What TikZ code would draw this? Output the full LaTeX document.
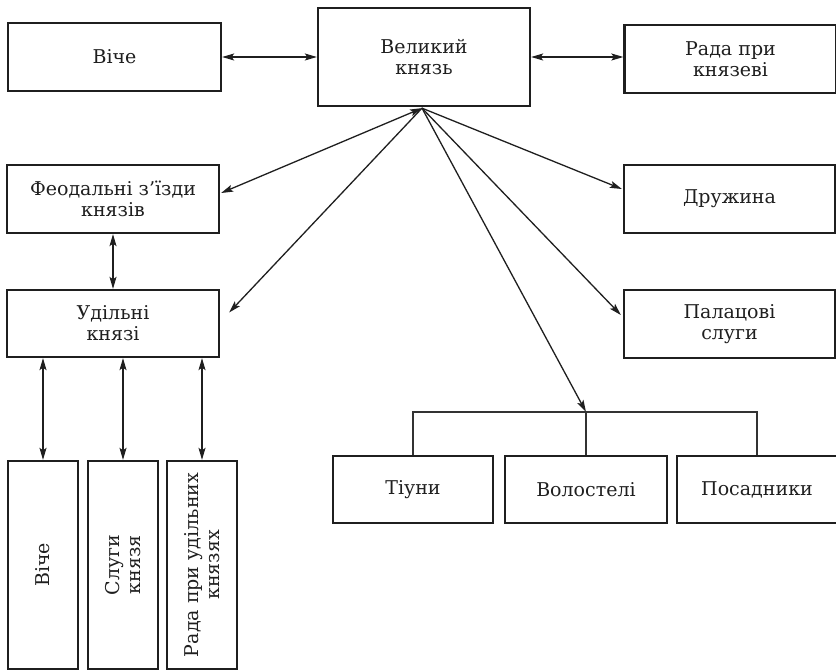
\documentclass[tikz,border=0pt]{standalone}
\usepackage{fontspec}
\setmainfont{DejaVu Serif}
\usetikzlibrary{arrows.meta,calc}
\begin{document}
\begin{tikzpicture}[x=1pt,y=-1pt,
  box/.style={draw=black!88, line width=2.3pt, inner sep=0pt, align=center,
    font=\fontsize{19}{21}\selectfont, text=black!88},
  wbox/.style={box, minimum width=212pt, minimum height=68pt},
  bbox/.style={box, minimum width=161pt, minimum height=67pt},
  vbox/.style={box, rotate=90, minimum width=208pt, minimum height=70pt},
  con/.style={line width=1.3pt, draw=black!88, -{Stealth[length=12pt,width=7pt,inset=2.5pt]}},
  dcon/.style={line width=1.3pt, draw=black!88, {Stealth[length=12pt,width=7pt,inset=2.5pt]}-{Stealth[length=12pt,width=7pt,inset=2.5pt]}},
  brk/.style={line width=1.2pt, draw=black!80}
]
\useasboundingbox (0,0) rectangle (836,671);
\fill[white] (0,0) rectangle (836,671);

% top row
\node[wbox, minimum width=213pt] (viche) at (114.5,57) {Віче};
\node[box, minimum width=212pt, minimum height=98pt] (gk) at (424,57) {Великий\\князь};
\node[wbox] (rada) at (730.5,59) {Рада при\\князеві};

% left column
\node[wbox] (fz) at (113,199) {Феодальні з'їзди\\князів};
\node[wbox, minimum height=67pt] (ud) at (113,323.5) {Удільні\\князі};

% right column
\node[wbox, minimum width=211pt] (dr) at (729.5,199) {Дружина};
\node[wbox, minimum width=211pt] (pal) at (729.5,324) {Палацові\\слуги};

% bottom row
\node[bbox, minimum width=160pt] (ti) at (413,489.5) {Тіуни};
\node[bbox, minimum width=162pt] (vo) at (586,489.5) {Волостелі};
\node[bbox, minimum width=160pt] (po) at (757,489.5) {Посадники};

% vertical boxes
\node[vbox, minimum height=70pt] (v1) at (43,565) {Віче};
\node[vbox] (v2) at (123,565) {Слуги\\князя};
\node[vbox] (v3) at (202,565) {Рада при удільних\\князях};

% connectors top
\draw[dcon] (viche.east) -- (gk.west);
\draw[dcon] (gk.east) -- (gk.east -| rada.west);

% from great prince
\coordinate (hub) at ($(gk.south)+(-2,1)$);
\coordinate (j) at (586,412);
\draw[dcon] (hub) -- ($(fz.east)+(1,-6)$);
\draw[con] (hub) -- ($(ud.east)+(9,-11)$);
\draw[con] (hub) -- ($(dr.west)+(-1,-10)$);
\draw[con] (hub) -- ($(pal.west)+(-2,-9)$);
\draw[con] (hub) -- (j);

% bracket
\draw[brk] (ti.north) -- (ti.north |- j) -- (po.north |- j) -- (po.north);
\draw[brk] (j) -- (vo.north);

% left side
\draw[dcon] (fz.south) -- (ud.north);
\draw[dcon] (v1.east |- ud.south) -- (v1.east);
\draw[dcon] (v2.east |- ud.south) -- (v2.east);
\draw[dcon] (v3.east |- ud.south) -- (v3.east);
\end{tikzpicture}
\end{document}
